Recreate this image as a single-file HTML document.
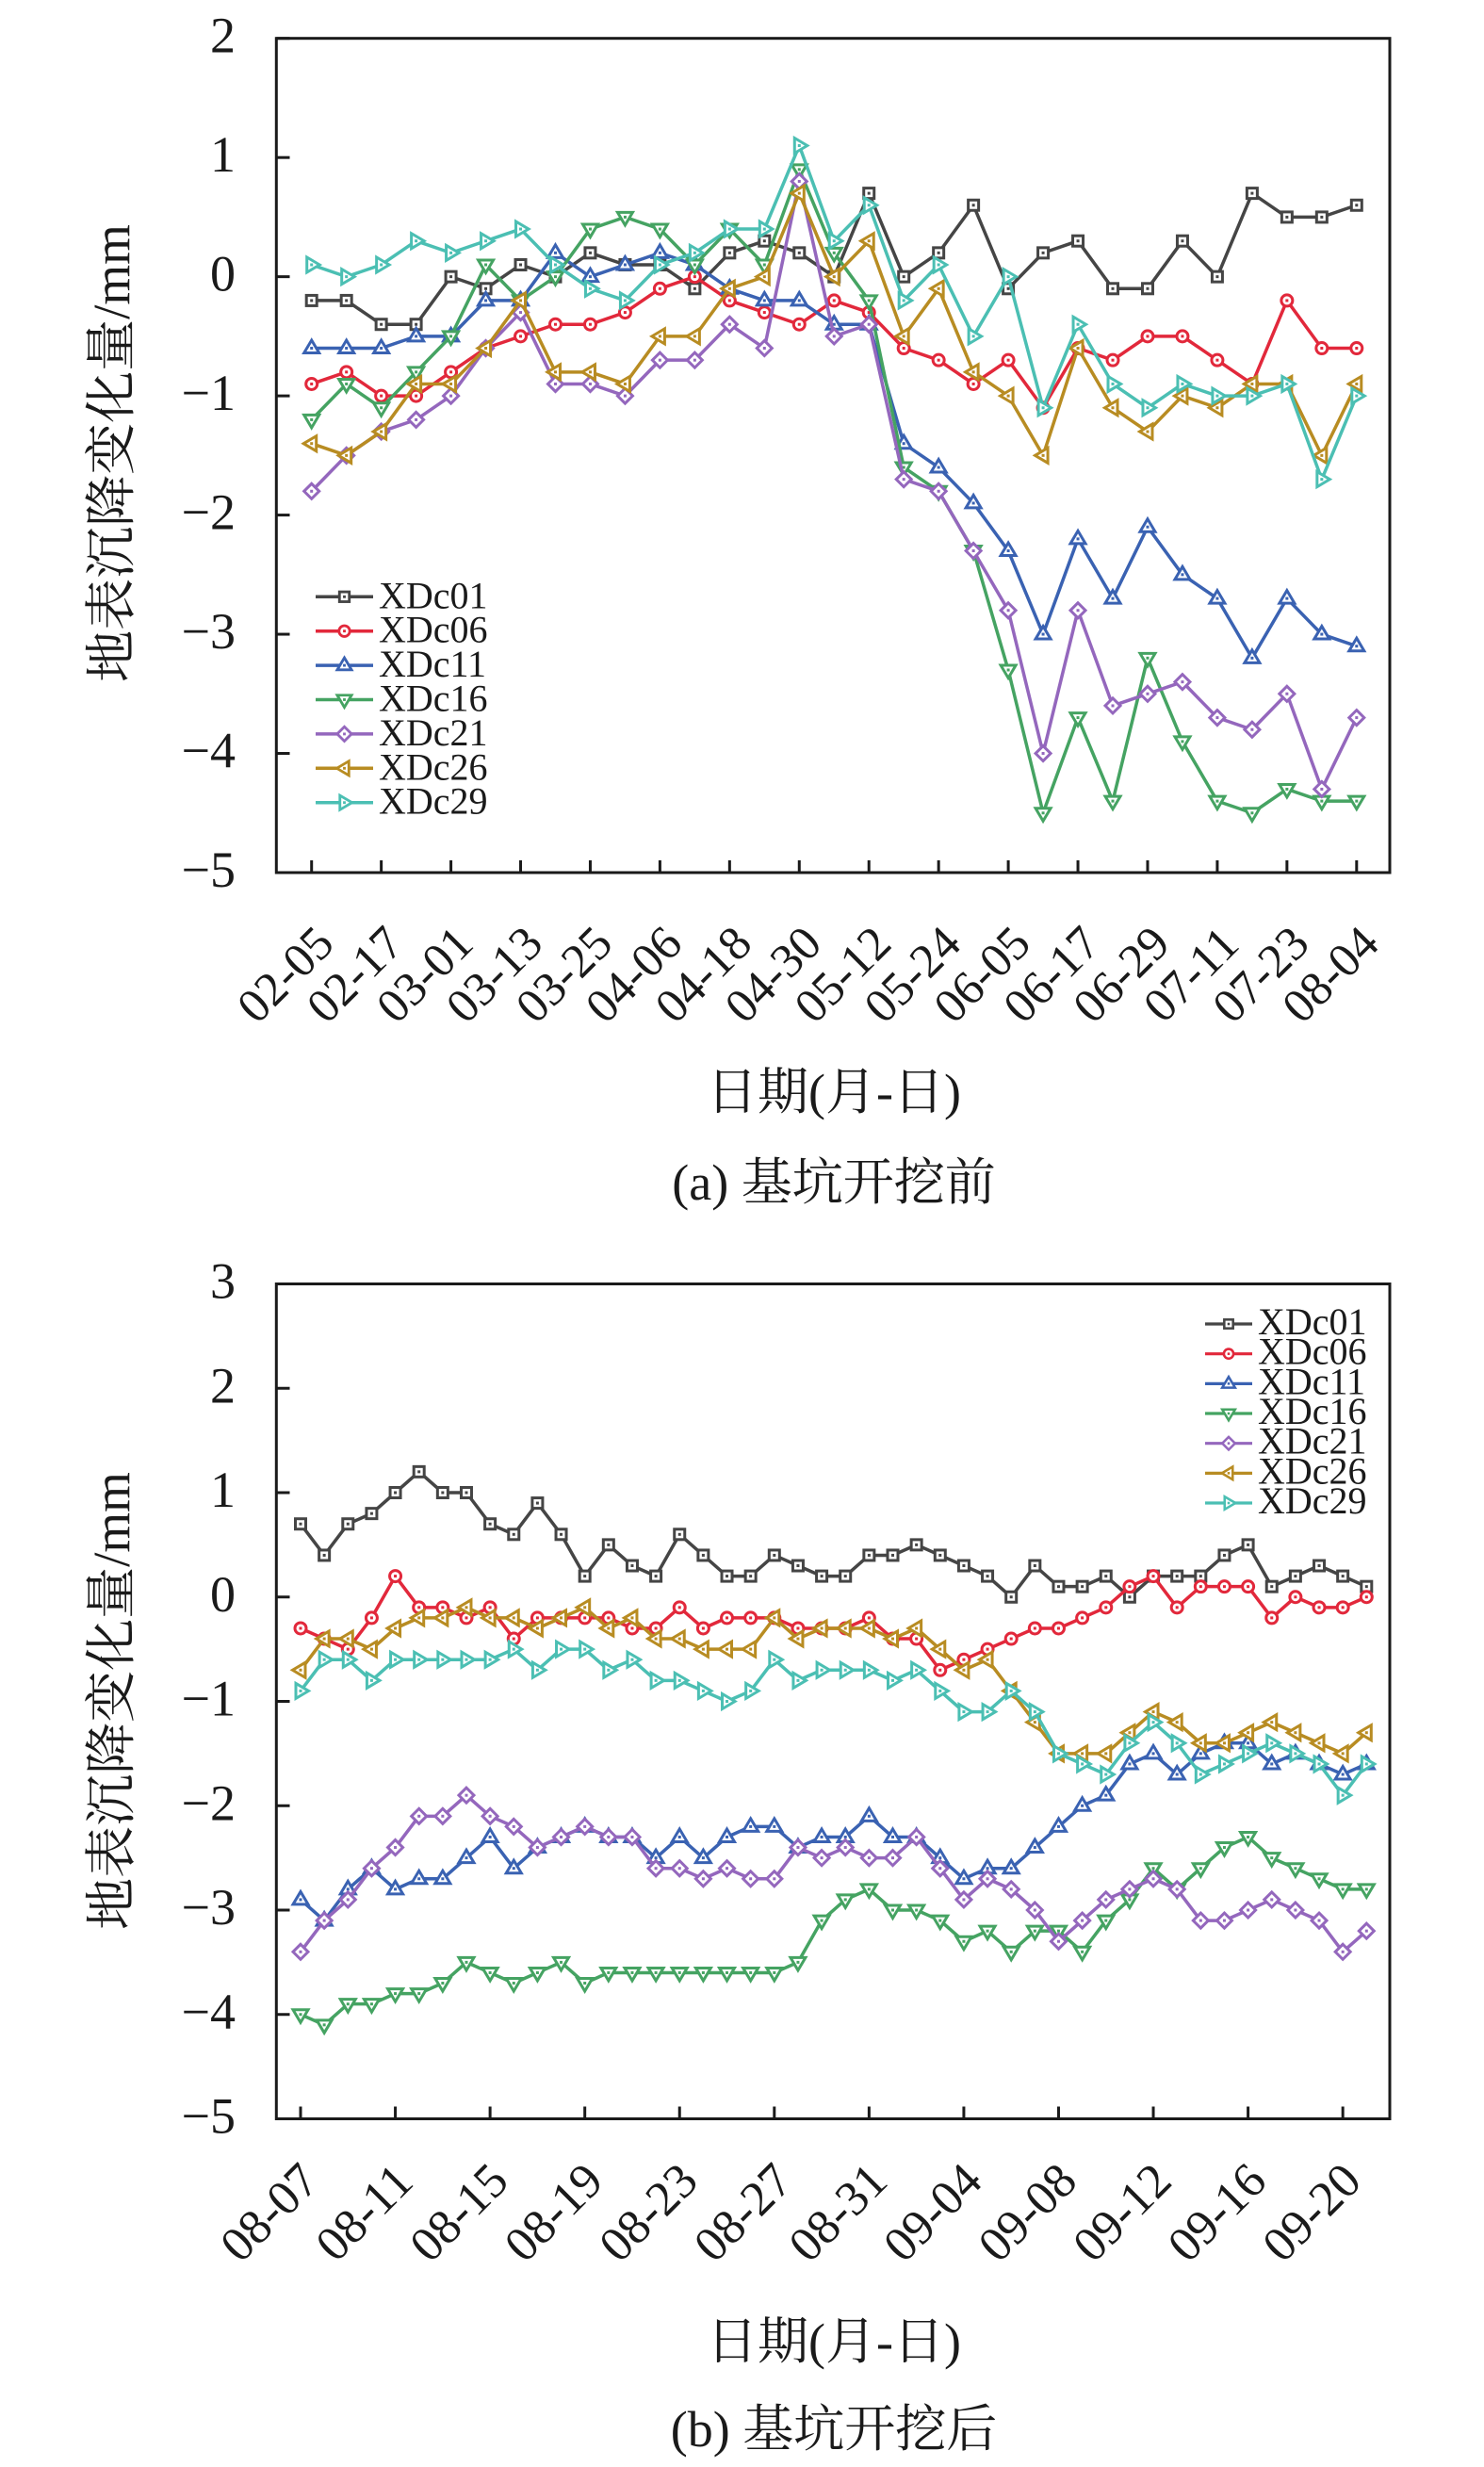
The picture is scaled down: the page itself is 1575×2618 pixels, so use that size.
<!DOCTYPE html>
<html><head><meta charset="utf-8">
<style>
html,body{margin:0;padding:0;background:#fff;}
svg{display:block;}
text{font-family:"Liberation Serif","Noto Serif CJK SC",serif;fill:#1a1a1a;}
.yt{font-size:54px;text-anchor:end;}
.dt{font-size:51px;text-anchor:middle;}
.dtb{font-size:52px;text-anchor:middle;}
.lg{font-size:40px;}
.lab{font-size:54px;text-anchor:middle;}
.ylab{font-size:55px;text-anchor:middle;}
</style></head><body>
<svg id="s" width="1575" height="2618" viewBox="0 0 1575 2618" xmlns="http://www.w3.org/2000/svg">
<rect width="1575" height="2618" fill="#fff"/>
<rect x="293.3" y="40.7" width="1181.7" height="885.3" fill="none" stroke="#1a1a1a" stroke-width="3"/>
<rect x="293.3" y="1362.5" width="1181.7" height="886" fill="none" stroke="#1a1a1a" stroke-width="3"/>
<g id="ticks"></g>
<g id="ga"></g>
<g id="gb"></g>

<!-- Y tick labels (a) -->
<text class="yt" x="250" y="55.7">2</text>
<text class="yt" x="250" y="182.2">1</text>
<text class="yt" x="250" y="308.6">0</text>
<text class="yt" x="250" y="435.1">−1</text>
<text class="yt" x="250" y="561.6">−2</text>
<text class="yt" x="250" y="688">−3</text>
<text class="yt" x="250" y="814.5">−4</text>
<text class="yt" x="250" y="941">−5</text>

<!-- Y tick labels (b) -->
<text class="yt" x="250" y="1377.5">3</text>
<text class="yt" x="250" y="1488.3">2</text>
<text class="yt" x="250" y="1599">1</text>
<text class="yt" x="250" y="1709.8">0</text>
<text class="yt" x="250" y="1820.5">−1</text>
<text class="yt" x="250" y="1931.3">−2</text>
<text class="yt" x="250" y="2042">−3</text>
<text class="yt" x="250" y="2152.8">−4</text>
<text class="yt" x="250" y="2263.5">−5</text>

<!-- Date labels (a) -->
<text class="dt" x="314.7" y="1046" transform="rotate(-45 314.7 1046)">02-05</text>
<text class="dt" x="388.6" y="1046" transform="rotate(-45 388.6 1046)">02-17</text>
<text class="dt" x="462.6" y="1046" transform="rotate(-45 462.6 1046)">03-01</text>
<text class="dt" x="536.5" y="1046" transform="rotate(-45 536.5 1046)">03-13</text>
<text class="dt" x="610.5" y="1046" transform="rotate(-45 610.5 1046)">03-25</text>
<text class="dt" x="684.4" y="1046" transform="rotate(-45 684.4 1046)">04-06</text>
<text class="dt" x="758.3" y="1046" transform="rotate(-45 758.3 1046)">04-18</text>
<text class="dt" x="832.3" y="1046" transform="rotate(-45 832.3 1046)">04-30</text>
<text class="dt" x="906.2" y="1046" transform="rotate(-45 906.2 1046)">05-12</text>
<text class="dt" x="980.2" y="1046" transform="rotate(-45 980.2 1046)">05-24</text>
<text class="dt" x="1054.1" y="1046" transform="rotate(-45 1054.1 1046)">06-05</text>
<text class="dt" x="1128" y="1046" transform="rotate(-45 1128 1046)">06-17</text>
<text class="dt" x="1202" y="1046" transform="rotate(-45 1202 1046)">06-29</text>
<text class="dt" x="1275.9" y="1046" transform="rotate(-45 1275.9 1046)">07-11</text>
<text class="dt" x="1349.9" y="1046" transform="rotate(-45 1349.9 1046)">07-23</text>
<text class="dt" x="1423.8" y="1046" transform="rotate(-45 1423.8 1046)">08-04</text>

<!-- Date labels (b) -->
<text class="dtb" x="298" y="2360" transform="rotate(-45 298 2360)">08-07</text>
<text class="dtb" x="398.6" y="2360" transform="rotate(-45 398.6 2360)">08-11</text>
<text class="dtb" x="499.1" y="2360" transform="rotate(-45 499.1 2360)">08-15</text>
<text class="dtb" x="599.7" y="2360" transform="rotate(-45 599.7 2360)">08-19</text>
<text class="dtb" x="700.2" y="2360" transform="rotate(-45 700.2 2360)">08-23</text>
<text class="dtb" x="800.8" y="2360" transform="rotate(-45 800.8 2360)">08-27</text>
<text class="dtb" x="901.4" y="2360" transform="rotate(-45 901.4 2360)">08-31</text>
<text class="dtb" x="1001.9" y="2360" transform="rotate(-45 1001.9 2360)">09-04</text>
<text class="dtb" x="1102.5" y="2360" transform="rotate(-45 1102.5 2360)">09-08</text>
<text class="dtb" x="1203" y="2360" transform="rotate(-45 1203 2360)">09-12</text>
<text class="dtb" x="1303.6" y="2360" transform="rotate(-45 1303.6 2360)">09-16</text>
<text class="dtb" x="1404.2" y="2360" transform="rotate(-45 1404.2 2360)">09-20</text>

<!-- Axis titles -->
<text class="ylab" x="137" y="481" transform="rotate(-90 137 481)">地表沉降变化量/mm</text>
<text class="ylab" x="137" y="1805" transform="rotate(-90 137 1805)">地表沉降变化量/mm</text>
<text class="lab" x="885" y="1177">日期(月-日)</text>
<text class="lab" x="885" y="1273">(a) 基坑开挖前</text>
<text class="lab" x="885" y="2503">日期(月-日)</text>
<text class="lab" x="885" y="2596">(b) 基坑开挖后</text>

<!-- Legend text (a) -->
<text class="lg" x="402" y="645.3">XDc01</text>
<text class="lg" x="402" y="681.7">XDc06</text>
<text class="lg" x="402" y="718.1">XDc11</text>
<text class="lg" x="402" y="754.5">XDc16</text>
<text class="lg" x="402" y="790.9">XDc21</text>
<text class="lg" x="402" y="827.3">XDc26</text>
<text class="lg" x="402" y="863.7">XDc29</text>

<!-- Legend text (b) -->
<text class="lg" x="1335" y="1416">XDc01</text>
<text class="lg" x="1335" y="1447.7">XDc06</text>
<text class="lg" x="1335" y="1479.3">XDc11</text>
<text class="lg" x="1335" y="1511">XDc16</text>
<text class="lg" x="1335" y="1542.7">XDc21</text>
<text class="lg" x="1335" y="1574.3">XDc26</text>
<text class="lg" x="1335" y="1606">XDc29</text>
</svg>
<script>
(function(){
var NS="http://www.w3.org/2000/svg";
function el(tag,attrs,parent){var e=document.createElementNS(NS,tag);for(var k in attrs)e.setAttribute(k,attrs[k]);parent.appendChild(e);return e;}
var colors=['#454545','#e2283b','#3a62b2','#45a362','#9467bd','#b88c22','#4bbfb3'];
var shapes=['sq','ci','tu','td','di','tl','tr'];
var P={
 tu:[[0,-8.5],[8,5],[-8,5]],
 td:[[0,8.5],[8,-5],[-8,-5]],
 tl:[[-8.5,0],[5,-8],[5,8]],
 tr:[[8.5,0],[-5,-8],[-5,8]],
 di:[[0,-8],[8,0],[0,8],[-8,0]]
};
function marker(g,shape,x,y,c,s){
  var sw=3*s;
  var a={fill:'#fff',stroke:c,'stroke-width':sw,'stroke-linejoin':'miter'};
  if(shape==='sq'){a.x=x-5.5*s;a.y=y-5.5*s;a.width=11*s;a.height=11*s;el('rect',a,g);}
  else if(shape==='ci'){a.cx=x;a.cy=y;a.r=6*s;el('circle',a,g);}
  else{a.points=P[shape].map(function(p){return (x+p[0]*s).toFixed(2)+','+(y+p[1]*s).toFixed(2);}).join(' ');el('polygon',a,g);}
  el('rect',{x:x-1.5*s,y:y-1.5*s,width:3*s,height:3*s,fill:c},g);
}
var A=[
[-0.2,-0.2,-0.4,-0.4,0,-0.1,0.1,0,0.2,0.1,0.1,-0.1,0.2,0.3,0.2,0,0.7,0,0.2,0.6,-0.1,0.2,0.3,-0.1,-0.1,0.3,0,0.7,0.5,0.5,0.6],
[-0.9,-0.8,-1.0,-1.0,-0.8,-0.6,-0.5,-0.4,-0.4,-0.3,-0.1,0,-0.2,-0.3,-0.4,-0.2,-0.3,-0.6,-0.7,-0.9,-0.7,-1.1,-0.6,-0.7,-0.5,-0.5,-0.7,-0.9,-0.2,-0.6,-0.6],
[-0.6,-0.6,-0.6,-0.5,-0.5,-0.2,-0.2,0.2,0,0.1,0.2,0.1,-0.1,-0.2,-0.2,-0.4,-0.4,-1.4,-1.6,-1.9,-2.3,-3.0,-2.2,-2.7,-2.1,-2.5,-2.7,-3.2,-2.7,-3.0,-3.1],
[-1.2,-0.9,-1.1,-0.8,-0.5,0.1,-0.2,0,0.4,0.5,0.4,0.1,0.4,0.1,0.9,0.2,-0.2,-1.6,-1.8,-2.3,-3.3,-4.5,-3.7,-4.4,-3.2,-3.9,-4.4,-4.5,-4.3,-4.4,-4.4],
[-1.8,-1.5,-1.3,-1.2,-1.0,-0.6,-0.3,-0.9,-0.9,-1.0,-0.7,-0.7,-0.4,-0.6,0.8,-0.5,-0.4,-1.7,-1.8,-2.3,-2.8,-4.0,-2.8,-3.6,-3.5,-3.4,-3.7,-3.8,-3.5,-4.3,-3.7],
[-1.4,-1.5,-1.3,-0.9,-0.9,-0.6,-0.2,-0.8,-0.8,-0.9,-0.5,-0.5,-0.1,0,0.7,0,0.3,-0.5,-0.1,-0.8,-1.0,-1.5,-0.6,-1.1,-1.3,-1.0,-1.1,-0.9,-0.9,-1.5,-0.9],
[0.1,0,0.1,0.3,0.2,0.3,0.4,0.1,-0.1,-0.2,0.1,0.2,0.4,0.4,1.1,0.3,0.6,-0.2,0.1,-0.5,0,-1.1,-0.4,-0.9,-1.1,-0.9,-1.0,-1.0,-0.9,-1.7,-1.0]
];
var B=[
[0.7,0.4,0.7,0.8,1.0,1.2,1.0,1.0,0.7,0.6,0.9,0.6,0.2,0.5,0.3,0.2,0.6,0.4,0.2,0.2,0.4,0.3,0.2,0.2,0.4,0.4,0.5,0.4,0.3,0.2,0.0,0.3,0.1,0.1,0.2,0.0,0.2,0.2,0.2,0.4,0.5,0.1,0.2,0.3,0.2,0.1],
[-0.3,-0.4,-0.5,-0.2,0.2,-0.1,-0.1,-0.2,-0.1,-0.4,-0.2,-0.2,-0.2,-0.2,-0.3,-0.3,-0.1,-0.3,-0.2,-0.2,-0.2,-0.3,-0.3,-0.3,-0.2,-0.4,-0.4,-0.7,-0.6,-0.5,-0.4,-0.3,-0.3,-0.2,-0.1,0.1,0.2,-0.1,0.1,0.1,0.1,-0.2,0.0,-0.1,-0.1,0.0],
[-2.9,-3.1,-2.8,-2.6,-2.8,-2.7,-2.7,-2.5,-2.3,-2.6,-2.4,-2.3,-2.2,-2.3,-2.3,-2.5,-2.3,-2.5,-2.3,-2.2,-2.2,-2.4,-2.3,-2.3,-2.1,-2.3,-2.3,-2.5,-2.7,-2.6,-2.6,-2.4,-2.2,-2.0,-1.9,-1.6,-1.5,-1.7,-1.5,-1.4,-1.4,-1.6,-1.5,-1.6,-1.7,-1.6],
[-4.0,-4.1,-3.9,-3.9,-3.8,-3.8,-3.7,-3.5,-3.6,-3.7,-3.6,-3.5,-3.7,-3.6,-3.6,-3.6,-3.6,-3.6,-3.6,-3.6,-3.6,-3.5,-3.1,-2.9,-2.8,-3.0,-3.0,-3.1,-3.3,-3.2,-3.4,-3.2,-3.2,-3.4,-3.1,-2.9,-2.6,-2.8,-2.6,-2.4,-2.3,-2.5,-2.6,-2.7,-2.8,-2.8],
[-3.4,-3.1,-2.9,-2.6,-2.4,-2.1,-2.1,-1.9,-2.1,-2.2,-2.4,-2.3,-2.2,-2.3,-2.3,-2.6,-2.6,-2.7,-2.6,-2.7,-2.7,-2.4,-2.5,-2.4,-2.5,-2.5,-2.3,-2.6,-2.9,-2.7,-2.8,-3.0,-3.3,-3.1,-2.9,-2.8,-2.7,-2.8,-3.1,-3.1,-3.0,-2.9,-3.0,-3.1,-3.4,-3.2],
[-0.7,-0.4,-0.4,-0.5,-0.3,-0.2,-0.2,-0.1,-0.2,-0.2,-0.3,-0.2,-0.1,-0.3,-0.2,-0.4,-0.4,-0.5,-0.5,-0.5,-0.2,-0.4,-0.3,-0.3,-0.3,-0.4,-0.3,-0.5,-0.7,-0.6,-0.9,-1.2,-1.5,-1.5,-1.5,-1.3,-1.1,-1.2,-1.4,-1.4,-1.3,-1.2,-1.3,-1.4,-1.5,-1.3],
[-0.9,-0.6,-0.6,-0.8,-0.6,-0.6,-0.6,-0.6,-0.6,-0.5,-0.7,-0.5,-0.5,-0.7,-0.6,-0.8,-0.8,-0.9,-1.0,-0.9,-0.6,-0.8,-0.7,-0.7,-0.7,-0.8,-0.7,-0.9,-1.1,-1.1,-0.9,-1.1,-1.5,-1.6,-1.7,-1.4,-1.2,-1.4,-1.7,-1.6,-1.5,-1.4,-1.5,-1.6,-1.9,-1.6]
];
function XA(i){return 330.7+36.97*i;}
function YA(v){return 40.7+(2-v)*126.47;}
function XB(i){return 319+25.14*i;}
function YB(v){return 1362.5+(3-v)*110.75;}
var tk=document.getElementById('ticks');
var tc='#1a1a1a';
for(var i=0;i<=30;i+=2){el('line',{x1:XA(i),y1:926,x2:XA(i),y2:913,stroke:tc,'stroke-width':3},tk);}
for(var v=2;v>=-5;v--){el('line',{x1:293.3,y1:YA(v),x2:307.5,y2:YA(v),stroke:tc,'stroke-width':3},tk);}
for(var i=0;i<=44;i+=4){el('line',{x1:XB(i),y1:2248.5,x2:XB(i),y2:2235.5,stroke:tc,'stroke-width':3},tk);}
for(var v=3;v>=-5;v--){el('line',{x1:293.3,y1:YB(v),x2:307.5,y2:YB(v),stroke:tc,'stroke-width':3},tk);}
function drawSeries(g,data,X,Y){
  for(var s=0;s<data.length;s++){
    var d=data[s],c=colors[s];
    var pts=d.map(function(v,i){return X(i).toFixed(2)+','+Y(v).toFixed(2);}).join(' ');
    el('polyline',{points:pts,fill:'none',stroke:c,'stroke-width':3.5,'stroke-linejoin':'round'},g);
    for(var i=0;i<d.length;i++){marker(g,shapes[s],X(i),Y(d[i]),c,1);}
  }
}
var ga=document.getElementById('ga'),gb=document.getElementById('gb');
drawSeries(ga,A,XA,YA);
drawSeries(gb,B,XB,YB);
for(var k=0;k<7;k++){
  var y=633.3+36.4*k;
  el('line',{x1:335,y1:y,x2:396,y2:y,stroke:colors[k],'stroke-width':3.5},ga);
  marker(ga,shapes[k],365.5,y,colors[k],0.95);
  var y2=1405+31.67*k;
  el('line',{x1:1279,y1:y2,x2:1329,y2:y2,stroke:colors[k],'stroke-width':3.2},gb);
  marker(gb,shapes[k],1304,y2,colors[k],0.85);
}
})();
</script>
</body></html>
